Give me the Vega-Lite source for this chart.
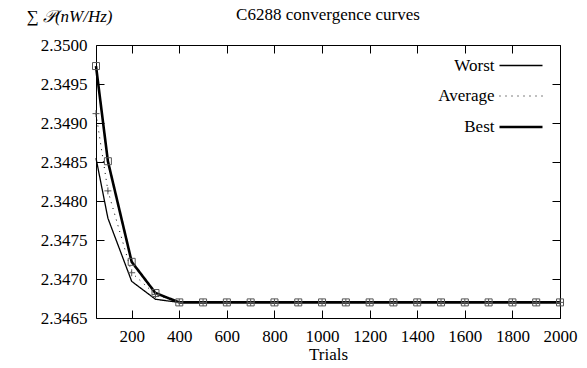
{
  "$schema": "https://vega.github.io/schema/vega-lite/v6.json",
  "width": 464,
  "height": 273,
  "autosize": {"type": "none"},
  "padding": {"left": 96, "top": 45, "right": 27, "bottom": 50},
  "config": {
    "font": "Liberation Serif, Times New Roman, DejaVu Serif, serif",
    "view": {"stroke": "black", "strokeWidth": 1},
    "axis": {
      "labelFont": "Liberation Serif, Times New Roman, DejaVu Serif, serif",
      "labelFontSize": 17,
      "labelColor": "black",
      "titleFont": "Liberation Serif, Times New Roman, DejaVu Serif, serif",
      "titleFontSize": 17,
      "titleFontWeight": "normal",
      "titleColor": "black",
      "tickColor": "black",
      "tickWidth": 1,
      "tickSize": -8,
      "domain": false,
      "grid": false,
      "labelPadding": 18,
      "labelFlush": false,
      "labelOverlap": false
    }
  },
  "title": {
    "text": "C6288 convergence curves",
    "font": "Liberation Serif, Times New Roman, DejaVu Serif, serif",
    "fontSize": 17,
    "fontWeight": "normal",
    "color": "black",
    "anchor": "middle",
    "frame": "group",
    "offset": -17
  },
  "data": {
    "values": [
      {"trials": 50, "power": 2.34855, "series": "Worst"},
      {"trials": 100, "power": 2.34778, "series": "Worst"},
      {"trials": 200, "power": 2.34697, "series": "Worst"},
      {"trials": 300, "power": 2.34674, "series": "Worst"},
      {"trials": 400, "power": 2.3467, "series": "Worst"},
      {"trials": 500, "power": 2.3467, "series": "Worst"},
      {"trials": 600, "power": 2.3467, "series": "Worst"},
      {"trials": 700, "power": 2.3467, "series": "Worst"},
      {"trials": 800, "power": 2.3467, "series": "Worst"},
      {"trials": 900, "power": 2.3467, "series": "Worst"},
      {"trials": 1000, "power": 2.3467, "series": "Worst"},
      {"trials": 1100, "power": 2.3467, "series": "Worst"},
      {"trials": 1200, "power": 2.3467, "series": "Worst"},
      {"trials": 1300, "power": 2.3467, "series": "Worst"},
      {"trials": 1400, "power": 2.3467, "series": "Worst"},
      {"trials": 1500, "power": 2.3467, "series": "Worst"},
      {"trials": 1600, "power": 2.3467, "series": "Worst"},
      {"trials": 1700, "power": 2.3467, "series": "Worst"},
      {"trials": 1800, "power": 2.3467, "series": "Worst"},
      {"trials": 1900, "power": 2.3467, "series": "Worst"},
      {"trials": 2000, "power": 2.3467, "series": "Worst"},
      {"trials": 50, "power": 2.34912, "series": "Average"},
      {"trials": 100, "power": 2.34813, "series": "Average"},
      {"trials": 200, "power": 2.34708, "series": "Average"},
      {"trials": 300, "power": 2.3468, "series": "Average"},
      {"trials": 400, "power": 2.3467, "series": "Average"},
      {"trials": 500, "power": 2.3467, "series": "Average"},
      {"trials": 600, "power": 2.3467, "series": "Average"},
      {"trials": 700, "power": 2.3467, "series": "Average"},
      {"trials": 800, "power": 2.3467, "series": "Average"},
      {"trials": 900, "power": 2.3467, "series": "Average"},
      {"trials": 1000, "power": 2.3467, "series": "Average"},
      {"trials": 1100, "power": 2.3467, "series": "Average"},
      {"trials": 1200, "power": 2.3467, "series": "Average"},
      {"trials": 1300, "power": 2.3467, "series": "Average"},
      {"trials": 1400, "power": 2.3467, "series": "Average"},
      {"trials": 1500, "power": 2.3467, "series": "Average"},
      {"trials": 1600, "power": 2.3467, "series": "Average"},
      {"trials": 1700, "power": 2.3467, "series": "Average"},
      {"trials": 1800, "power": 2.3467, "series": "Average"},
      {"trials": 1900, "power": 2.3467, "series": "Average"},
      {"trials": 2000, "power": 2.3467, "series": "Average"},
      {"trials": 50, "power": 2.34973, "series": "Best"},
      {"trials": 100, "power": 2.34851, "series": "Best"},
      {"trials": 200, "power": 2.34722, "series": "Best"},
      {"trials": 300, "power": 2.34682, "series": "Best"},
      {"trials": 400, "power": 2.3467, "series": "Best"},
      {"trials": 500, "power": 2.3467, "series": "Best"},
      {"trials": 600, "power": 2.3467, "series": "Best"},
      {"trials": 700, "power": 2.3467, "series": "Best"},
      {"trials": 800, "power": 2.3467, "series": "Best"},
      {"trials": 900, "power": 2.3467, "series": "Best"},
      {"trials": 1000, "power": 2.3467, "series": "Best"},
      {"trials": 1100, "power": 2.3467, "series": "Best"},
      {"trials": 1200, "power": 2.3467, "series": "Best"},
      {"trials": 1300, "power": 2.3467, "series": "Best"},
      {"trials": 1400, "power": 2.3467, "series": "Best"},
      {"trials": 1500, "power": 2.3467, "series": "Best"},
      {"trials": 1600, "power": 2.3467, "series": "Best"},
      {"trials": 1700, "power": 2.3467, "series": "Best"},
      {"trials": 1800, "power": 2.3467, "series": "Best"},
      {"trials": 1900, "power": 2.3467, "series": "Best"},
      {"trials": 2000, "power": 2.3467, "series": "Best"}
    ]
  },
  "layer": [
    {
      "mark": {"type": "line", "color": "black", "strokeCap": "butt", "strokeJoin": "miter"},
      "encoding": {
        "x": {
          "field": "trials",
          "type": "quantitative",
          "scale": {"domain": [50, 2000], "nice": false, "zero": false},
          "axis": {
            "orient": "bottom",
            "values": [200, 400, 600, 800, 1000, 1200, 1400, 1600, 1800, 2000],
            "format": "d",
            "title": "Trials",
            "titleY": 36,
            "titleBaseline": "middle"
          }
        },
        "y": {
          "field": "power",
          "type": "quantitative",
          "scale": {"domain": [2.3465, 2.35], "nice": false, "zero": false},
          "axis": {
            "orient": "left",
            "values": [2.3465, 2.347, 2.3475, 2.348, 2.3485, 2.349, 2.3495, 2.35],
            "format": ".4f",
            "labelPadding": 17,
            "title": "∑ 𝒫(nW/Hz)",
            "titleFontStyle": "italic",
            "titleAngle": 0,
            "titleAlign": "center",
            "titleBaseline": "middle",
            "titleX": -27,
            "titleY": -29
          }
        },
        "strokeDash": {
          "field": "series",
          "type": "nominal",
          "scale": {"domain": ["Worst", "Average", "Best"], "range": [[1, 0], [1, 5], [1, 0]]},
          "legend": {
            "orient": "none",
            "legendX": 402,
            "legendY": -2,
            "title": null,
            "padding": 0,
            "symbolSize": 1849,
            "symbolStrokeWidth": 1.5,
            "rowPadding": -19.5,
            "labelFont": "Liberation Serif, Times New Roman, DejaVu Serif, serif",
            "labelFontSize": 17,
            "labelColor": "black",
            "labelAlign": "right",
            "labelOffset": -49.5,
            "encode": {
              "symbols": {
                "update": {
                  "shape": {"signal": "datum.value === 'Best' ? 'M-1,0H1 M-0.163,-0.163H0.163V0.163H-0.163Z' : datum.value === 'Average' ? 'M-0.98,0h0.047 M-0.68,0h0.047 M-0.38,0h0.047 M0.333,0h0.047 M0.633,0h0.047 M0.933,0h0.047 M-0.163,0h0.047 M-0.116,0h0.047 M-0.07,0h0.047 M-0.023,0h0.047 M0.023,0h0.047 M0.07,0h0.047 M0.116,0h0.047 M0,-0.163v0.047 M0,-0.116v0.047 M0,-0.07v0.047 M0,-0.023v0.047 M0,0.023v0.047 M0,0.07v0.047 M0,0.116v0.047' : 'M-1,0H1'"},
                  "size": {"value": 1849},
                  "fill": {"value": "transparent"},
                  "stroke": {"value": "black"},
                  "strokeWidth": {"signal": "datum.value === 'Best' ? 2.6 : datum.value === 'Average' ? 1 : 1.3"},
                  "opacity": {"value": 1},
                  "strokeOpacity": {"value": 1}
                }
              }
            }
          }
        },
        "strokeWidth": {
          "field": "series",
          "type": "nominal",
          "scale": {"type": "ordinal", "domain": ["Worst", "Average", "Best"], "range": [1.3, 1, 2.6]},
          "legend": null
        }
      }
    },
    {
      "transform": [{"filter": "datum.series !== 'Worst'"}],
      "mark": {"type": "point", "filled": false, "stroke": "#555555", "strokeWidth": 1, "opacity": 1, "size": 49},
      "encoding": {
        "x": {
          "field": "trials",
          "type": "quantitative",
          "axis": {
            "orient": "top",
            "values": [200, 400, 600, 800, 1000, 1200, 1400, 1600, 1800, 2000],
            "labels": false,
            "title": null
          }
        },
        "y": {
          "field": "power",
          "type": "quantitative",
          "axis": {
            "orient": "right",
            "values": [2.3465, 2.347, 2.3475, 2.348, 2.3485, 2.349, 2.3495, 2.35],
            "labels": false,
            "title": null
          }
        },
        "shape": {
          "field": "series",
          "type": "nominal",
          "scale": {"domain": ["Average", "Best"], "range": ["M-1,0H1M0,-1V1", "square"]},
          "legend": null
        }
      }
    }
  ],
  "resolve": {"axis": {"x": "independent", "y": "independent"}}
}
